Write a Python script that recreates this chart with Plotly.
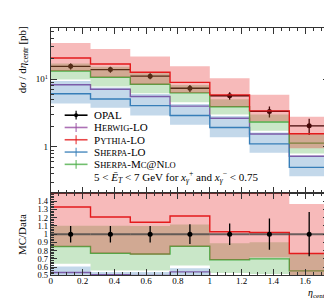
import plotly.graph_objects as go

# ---- data ----
edges = [0, 0.25, 0.5, 0.75, 1.0, 1.25, 1.5, 1.75]
centers = [0.125, 0.375, 0.625, 0.875, 1.125, 1.375, 1.625]
half_width = [0.125] * 7

opal = [15.5, 13.9, 11.1, 7.36, 5.70, 3.34, 2.05]
opal_err = [1.55, 1.39, 1.11, 0.88, 0.74, 0.63, 0.55]

herwig = [8.3, 7.1, 5.55, 4.0, 2.65, 1.55, 0.73]

pythia = [20.6, 16.8, 12.7, 8.98, 5.87, 3.41, 1.57]
pythia_lo = [13.2, 10.7, 8.33, 6.26, 3.93, 2.40, 0.96]
pythia_hi = [34.2, 28.0, 21.7, 15.5, 10.3, 5.89, 2.80]

sherpa = [6.10, 5.10, 4.08, 2.92, 1.94, 1.11, 0.50]
sherpa_lo = [4.37, 3.78, 2.92, 2.12, 1.39, 0.82, 0.37]
sherpa_hi = [9.41, 7.53, 6.03, 4.32, 2.86, 1.64, 0.75]

mcnlo = [13.2, 10.7, 8.44, 6.29, 3.93, 2.34, 1.14]
mcnlo_lo = [9.94, 7.79, 6.23, 4.56, 3.02, 1.73, 0.80]
mcnlo_hi = [17.1, 15.3, 12.2, 8.23, 5.07, 3.01, 1.56]

ratio_ticks = [0.5, 0.6, 0.7, 0.8, 0.9, 1.0, 1.1, 1.2, 1.3, 1.4]
ratio_ticktext = ["0.5", "0.6", "0.7", "0.8", "0.9", "1", "1.1", "1.2", "1.3", "1.4"]
x_ticks = [0, 0.2, 0.4, 0.6, 0.8, 1.0, 1.2, 1.4, 1.6]
x_ticktext = ["0", "0.2", "0.4", "0.6", "0.8", "1", "1.2", "1.4", "1.6"]

C_HER = "#984ea3"
C_PYT = "#e41a1c"
C_SHE = "#377eb8"
C_MCN = "#4daf4a"
A = 0.3


def rgba(hexc, a):
    h = hexc.lstrip("#")
    r, g, b = int(h[0:2], 16), int(h[2:4], 16), int(h[4:6], 16)
    return f"rgba({r},{g},{b},{a})"


def step(v):
    return list(v) + [v[-1]]


def ratio(v):
    return [a / b for a, b in zip(v, opal)]


FONT = "Liberation Serif"
W, H = 332, 300
x0p, x1p = 41 / W, 321 / W
main_dom = [1 - 188 / H, 1 - 20 / H]
rat_dom = [1 - 272 / H, 1 - 188 / H]

fig = go.Figure()


def add_series(vals, lo, hi, color, xa, ya, ratio_mode):
    f = ratio if ratio_mode else (lambda v: v)
    if lo is not None:
        fig.add_trace(go.Scatter(x=edges, y=step(f(lo)), mode="lines", line=dict(width=0, shape="hv"),
                                 hoverinfo="skip", showlegend=False, xaxis=xa, yaxis=ya))
        fig.add_trace(go.Scatter(x=edges, y=step(f(hi)), mode="lines", line=dict(width=0, shape="hv"),
                                 fill="tonexty", fillcolor=rgba(color, A),
                                 hoverinfo="skip", showlegend=False, xaxis=xa, yaxis=ya))
    fig.add_trace(go.Scatter(x=edges, y=step(f(vals)), mode="lines", line=dict(width=1.4, color=color, shape="hv"),
                             showlegend=False, xaxis=xa, yaxis=ya))


# main panel: data first (bands tint it)
fig.add_trace(go.Scatter(x=centers, y=opal, mode="markers",
                         marker=dict(color="black", size=5),
                         error_y=dict(type="data", array=opal_err, color="black", thickness=1.3, width=0),
                         error_x=dict(type="data", array=half_width, color="black", thickness=1.3, width=0),
                         showlegend=False, xaxis="x", yaxis="y"))
for vals, lo, hi, col in [(herwig, None, None, C_HER), (sherpa, sherpa_lo, sherpa_hi, C_SHE),
                          (mcnlo, mcnlo_lo, mcnlo_hi, C_MCN), (pythia, pythia_lo, pythia_hi, C_PYT)]:
    add_series(vals, lo, hi, col, "x", "y", False)

# ratio panel
for vals, lo, hi, col in [(herwig, None, None, C_HER), (sherpa, sherpa_lo, sherpa_hi, C_SHE),
                          (mcnlo, mcnlo_lo, mcnlo_hi, C_MCN), (pythia, pythia_lo, pythia_hi, C_PYT)]:
    add_series(vals, lo, hi, col, "x2", "y2", True)
fig.add_trace(go.Scatter(x=centers, y=ratio(opal), mode="markers",
                         marker=dict(color="black", size=5),
                         error_y=dict(type="data", array=ratio(opal_err), color="black", thickness=1.3, width=0),
                         error_x=dict(type="data", array=half_width, color="rgba(70,70,70,0.8)", thickness=2, width=0),
                         showlegend=False, xaxis="x2", yaxis="y2"))

tickfont = dict(family=FONT, size=9, color="black")
ratiofont = dict(family=FONT, size=8.5, color="black")
common_x = dict(range=[0, 1.75], domain=[x0p, x1p], showline=True, linecolor="#333", linewidth=1,
                mirror="ticks", ticks="inside", ticklen=6, tickcolor="#333", tickvals=x_ticks,
                minor=dict(dtick=0.05, ticks="inside", ticklen=3, tickcolor="#333"),
                showgrid=False, zeroline=False, tickfont=tickfont)

minor_main = [0.3, 0.4, 0.5, 0.6, 0.7, 0.8, 0.9, 2, 3, 4, 5, 6, 7, 8, 9, 20, 30, 40, 50]
fig.update_layout(
    width=W, height=H, margin=dict(l=0, r=0, t=0, b=0),
    paper_bgcolor="white", plot_bgcolor="white", showlegend=False,
    xaxis=dict(common_x, anchor="y", showticklabels=False),
    xaxis2=dict(common_x, anchor="y2", ticktext=x_ticktext, showticklabels=True, ticklabelstandoff=-3),
    yaxis=dict(type="log", range=[-0.678, 1.761], domain=main_dom, anchor="x",
               showline=True, linecolor="#333", linewidth=1, mirror="ticks", ticks="inside",
               ticklen=6, tickcolor="#333", tickvals=[1, 10], ticktext=["1", "10<sup>1</sup>"],
               minor=dict(tickvals=minor_main, ticks="inside", ticklen=3, tickcolor="#333"),
               showgrid=False, zeroline=False, tickfont=tickfont),
    yaxis2=dict(range=[0.5, 1.5], domain=rat_dom, anchor="x2",
                showline=True, linecolor="#333", linewidth=1, mirror="ticks", ticks="inside",
                ticklen=6, tickcolor="#333", tickvals=ratio_ticks, ticktext=ratio_ticktext,
                minor=dict(dtick=0.02, ticks="inside", ticklen=3, tickcolor="#333"),
                showgrid=False, zeroline=False, tickfont=ratiofont),
)

ann = []
ann.append(dict(text="d<i>σ</i> / d<i>η</i><sub>centr</sub> [pb]", textangle=-90, x=13 / W, y=1 - 16 / H,
                xref="paper", yref="paper", xanchor="center", yanchor="top", showarrow=False,
                font=dict(family=FONT, size=11, color="black")))
ann.append(dict(text="MC/Data", textangle=-90, x=12 / W, y=1 - 230 / H,
                xref="paper", yref="paper", xanchor="center", yanchor="middle", showarrow=False,
                font=dict(family=FONT, size=11, color="black")))
ann.append(dict(text="<i>η</i><sub>centr</sub>", x=322 / W, y=1 - 290 / H,
                xref="paper", yref="paper", xanchor="right", yanchor="middle", showarrow=False,
                font=dict(family=FONT, size=10, color="black")))

SC = "<span style='font-size:8.5px'>"
legend_items = [
    ("OPAL", "black", True),
    ("H" + SC + "ERWIG</span>-LO", C_HER, False),
    ("P" + SC + "YTHIA</span>-LO", C_PYT, False),
    ("S" + SC + "HERPA</span>-LO", C_SHE, False),
    ("S" + SC + "HERPA</span>-M" + SC + "C</span>@N" + SC + "LO</span>", C_MCN, False),
]
rows = [109, 121.5, 134, 146.5, 159]
shapes = []
for (txt, col, is_data), ry in zip(legend_items, rows):
    yp = 1 - ry / H
    lcol = col if is_data else rgba(col, 0.8)
    shapes.append(dict(type="line", xref="paper", yref="paper", x0=55 / W, x1=78 / W, y0=yp, y1=yp,
                       line=dict(color=lcol, width=1.6)))
    shapes.append(dict(type="line", xref="paper", yref="paper", x0=66.5 / W, x1=66.5 / W,
                       y0=yp - 4.5 / H, y1=yp + 4.5 / H, line=dict(color=lcol, width=1.2)))
    if is_data:
        shapes.append(dict(type="circle", xref="paper", yref="paper", x0=64.5 / W, x1=68.5 / W,
                           y0=yp - 2 / H, y1=yp + 2 / H, fillcolor="black", line=dict(color="black", width=0)))
    ann.append(dict(text=txt, x=82 / W, y=yp, xref="paper", yref="paper", xanchor="left", yanchor="middle",
                    showarrow=False, font=dict(family=FONT, size=11, color="black")))
ann.append(dict(text="5 &lt; <i>Ē</i><sub><i>T</i></sub> &lt; 7 GeV for <i>x</i><sub><i>γ</i></sub><sup>+</sup> and "
                     "<i>x</i><sub><i>γ</i></sub><sup>−</sup> &lt; 0.75",
                x=82 / W, y=1 - 172 / H, xref="paper", yref="paper", xanchor="left", yanchor="middle",
                showarrow=False, font=dict(family=FONT, size=11, color="black")))

fig.update_layout(annotations=ann, shapes=shapes)
fig.write_html("out.html")
